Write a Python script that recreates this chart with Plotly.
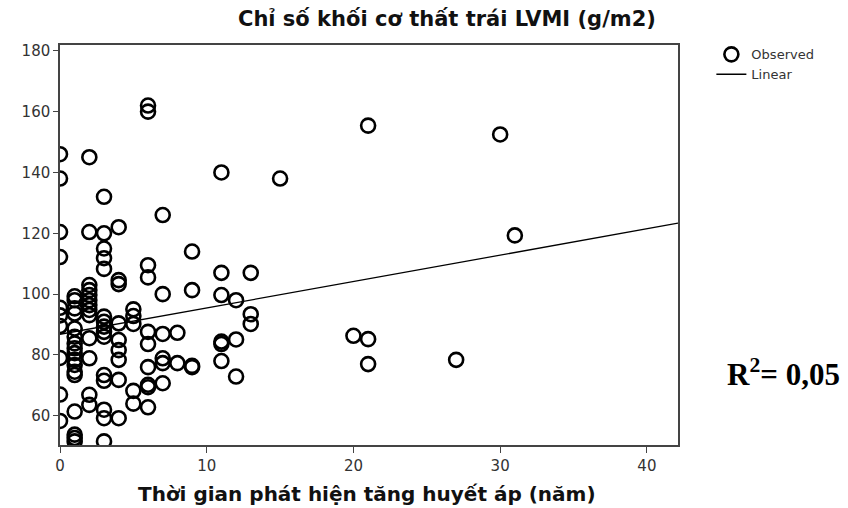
import plotly.graph_objects as go

# Observed data (years since hypertension detected, LVMI g/m2)
years = (
    [0]*10 + [1]*17 + [2]*13 + [3]*15 + [4]*9 + [5]*5 + [6]*10 + [7]*6 + [8]*2 + [9]*4
    + [11]*6 + [12]*3 + [13]*3 + [15, 20, 21, 21, 21, 27, 30, 31]
)
lvmi = (
    [146, 138, 120.4, 112.2, 95.5, 93, 89.5, 79, 67, 58.3]
    + [99.3, 98, 95.3, 93.6, 88.7, 86, 83.8, 82.2, 80.6, 78.4, 76.7, 74.5, 73.4, 61.4, 53.8, 52.7, 51.6]
    + [145, 120.4, 103, 101.3, 99.7, 98, 96.4, 94.8, 93.1, 85.5, 78.9, 66.9, 63.6]
    + [132, 120, 115, 111.8, 108.3, 92.6, 90.9, 89.3, 87.6, 86, 73.4, 71.5, 62, 59.2, 51.6]
    + [122, 104.6, 103.3, 90.4, 84.9, 81.6, 78.4, 71.8, 59.2]
    + [95, 92.8, 90.2, 68.2, 64]
    + [162, 160, 109.5, 105.5, 87.6, 83.6, 76, 70.2, 69.4, 62.8]
    + [126, 100, 86.9, 78.9, 77.3, 70.7]
    + [87.3, 77.3]
    + [114, 101.3, 76.4, 76]
    + [140, 107, 99.7, 84.4, 83.6, 78]
    + [98, 85.1, 72.9]
    + [107, 93.4, 90.2]
    + [138, 86.3, 155.4, 85.2, 77, 78.4, 152.5, 119.3]
)

# Linear fit
intercept = 86.8
slope = 0.867
line_x = [0, 42.12]
line_y = [intercept + slope * v for v in line_x]

x_ticks = [0, 10, 20, 30, 40]
y_ticks = [60, 80, 100, 120, 140, 160, 180]

title_text = "Chỉ số khối cơ thất trái LVMI (g/m2)"
xaxis_text = "Thời gian phát hiện tăng huyết áp (năm)"
r2_text = "R<sup>2</sup>= 0,05"

axis_color = "#444444"
tick_font = dict(family="DejaVu Sans", size=15, color="#333333")

fig = go.Figure()
fig.add_trace(go.Scatter(
    x=years, y=lvmi, mode="markers", name="Observed",
    marker=dict(symbol="circle-open", size=14, color="black", line=dict(width=2.6, color="black")),
    cliponaxis=True,
))
fig.add_trace(go.Scatter(
    x=line_x, y=line_y, mode="lines", name="Linear",
    line=dict(color="black", width=1.3),
))

fig.update_layout(
    width=848, height=508,
    margin=dict(l=60, r=170, t=45, b=63),
    paper_bgcolor="white", plot_bgcolor="white",
    showlegend=True,
    legend=dict(x=1.054, y=1.014, xanchor="left", yanchor="top",
                font=dict(family="DejaVu Sans", size=13, color="#333333"),
                bgcolor="rgba(0,0,0,0)", itemwidth=30, tracegroupgap=0),
    xaxis=dict(range=[0, 42.12], tickvals=x_ticks, ticks="outside", ticklen=6,
               tickcolor=axis_color, showline=True, linecolor=axis_color, linewidth=1.5,
               mirror=True, showgrid=False, zeroline=False, tickfont=tick_font),
    yaxis=dict(range=[50.4, 181.9], tickvals=y_ticks, ticks="outside", ticklen=5,
               tickcolor=axis_color, showline=True, linecolor=axis_color, linewidth=1.5,
               mirror=True, showgrid=False, zeroline=False, tickfont=tick_font),
    annotations=[
        dict(text=f"<b>{title_text}</b>", x=0.6265, y=1.065, xref="paper", yref="paper",
             xanchor="center", yanchor="middle", showarrow=False,
             font=dict(family="DejaVu Sans", size=21, color="#111111")),
        dict(text=f"<b>{xaxis_text}</b>", x=0.497, y=-0.1225, xref="paper", yref="paper",
             xanchor="center", yanchor="middle", showarrow=False,
             font=dict(family="DejaVu Sans", size=20, color="#111111")),
        dict(text=f"<b>{r2_text}</b>", x=1.1705, y=0.1825, xref="paper", yref="paper",
             xanchor="center", yanchor="middle", showarrow=False,
             font=dict(family="Liberation Serif", size=31, color="black")),
    ],
)

fig.write_html("out.html")
